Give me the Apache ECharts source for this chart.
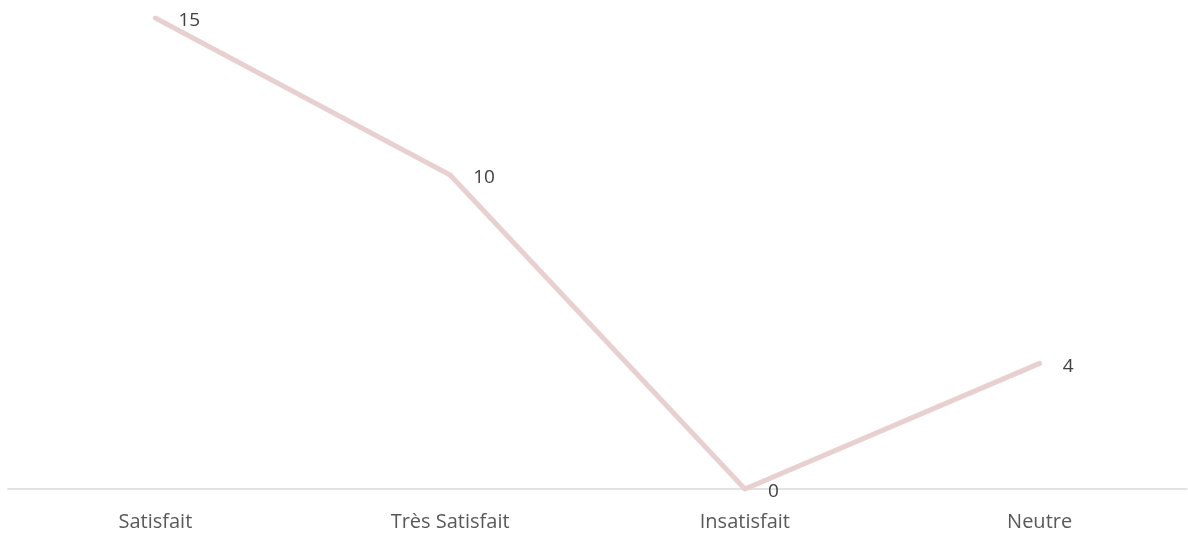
<!DOCTYPE html>
<html>
<head>
<meta charset="utf-8">
<script src="https://cdn.jsdelivr.net/npm/echarts@6/dist/echarts.min.js"></script>
<style>
  html, body { margin: 0; padding: 0; background: #fff; }
  #chart { width: 1188px; height: 535px; }
</style>
</head>
<body>
<div id="chart"></div>
<script>
const categories = ['Satisfait', 'Très Satisfait', 'Insatisfait', 'Neutre'];
const values = [15, 10, 0, 4];

const chart = echarts.init(document.getElementById('chart'));
chart.setOption({
  animation: false,
  grid: { left: 8, right: 1, top: 18, bottom: 46 },
  xAxis: {
    type: 'category',
    data: categories,
    boundaryGap: true,
    axisLine: { lineStyle: { color: '#d9d9d9', width: 1.5 } },
    axisTick: { show: false },
    axisLabel: {
      color: '#595959',
      fontSize: 20,
      fontFamily: 'Open Sans',
      margin: 23
    }
  },
  yAxis: {
    type: 'value',
    min: 0,
    max: 15,
    show: false,
    splitLine: { show: false }
  },
  series: [{
    type: 'line',
    data: values,
    symbol: 'circle',
    symbolSize: 4,
    showSymbol: true,
    itemStyle: { color: '#e8d0d0' },
    lineStyle: { color: '#e8d0d0', width: 5, cap: 'round', join: 'miter' },
    label: {
      show: true,
      position: 'right',
      distance: 21,
      offset: [0, 3],
      color: '#404040',
      fontSize: 19,
      fontFamily: 'Open Sans'
    }
  }]
});
</script>
</body>
</html>
